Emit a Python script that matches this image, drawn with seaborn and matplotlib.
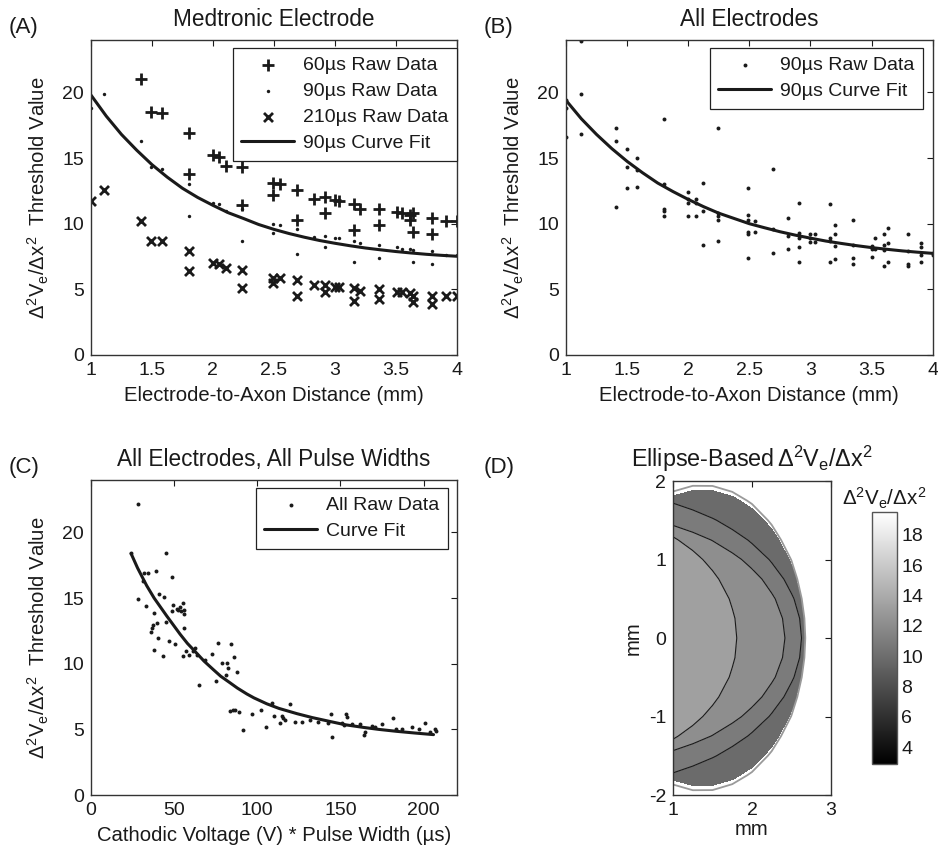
import numpy as np
import matplotlib
matplotlib.use("Agg")
import matplotlib.pyplot as plt
import seaborn as sns
from matplotlib.ticker import FormatStrFormatter
from matplotlib.colors import Normalize
from matplotlib.cm import ScalarMappable

# === (A) Medtronic electrode: raw thresholds per pulse width ===
dist_60 = [1.41, 1.49, 1.58, 1.80, 1.80, 2.0, 2.05, 2.11, 2.24, 2.24, 2.49, 2.55, 2.49,
           2.69, 2.69, 2.83, 2.92, 3.0, 3.03, 2.92, 3.16, 3.21, 3.16, 3.36, 3.36, 3.51,
           3.55, 3.62, 3.64, 3.62, 3.64, 3.80, 3.80, 3.91, 4.0]
thr_60 = [21.0, 18.5, 18.4, 16.9, 13.8, 15.2, 15.1, 14.4, 14.3, 11.4, 13.1, 13.0, 12.2,
          12.6, 10.3, 11.9, 12.0, 11.8, 11.7, 10.8, 11.5, 11.1, 9.5, 11.1, 9.9, 10.9,
          10.8, 10.7, 10.8, 10.3, 9.4, 10.4, 9.2, 10.2, 10.2]

dist_90 = [1.0, 1.11, 1.41, 1.49, 1.58, 1.80, 1.80, 2.0, 2.05, 2.11, 2.24, 2.24, 2.49,
           2.55, 2.49, 2.69, 2.69, 2.83, 2.92, 2.92, 3.0, 3.03, 3.16, 3.21, 3.16, 3.36,
           3.36, 3.51, 3.55, 3.62, 3.64, 3.64, 3.80, 3.80, 3.91, 4.0]
thr_90 = [18.8, 19.9, 16.3, 14.3, 14.2, 13.0, 10.6, 11.6, 11.5, 11.0, 11.1, 8.7, 10.0,
          9.9, 9.3, 9.6, 7.7, 9.0, 9.1, 8.2, 8.9, 8.9, 8.7, 8.5, 7.1, 8.4,
          7.4, 8.2, 8.1, 8.1, 8.0, 7.1, 7.9, 6.9, 7.6, 7.6]

dist_210 = [1.0, 1.11, 1.41, 1.49, 1.58, 1.80, 1.80, 2.0, 2.05, 2.11, 2.24, 2.24, 2.49,
            2.55, 2.49, 2.69, 2.69, 2.83, 2.92, 2.92, 3.0, 3.03, 3.16, 3.21, 3.16, 3.36,
            3.36, 3.51, 3.55, 3.62, 3.64, 3.64, 3.80, 3.80, 3.91, 4.0]
thr_210 = [11.7, 12.6, 10.2, 8.7, 8.7, 7.9, 6.4, 7.0, 6.9, 6.6, 6.5, 5.1, 5.9,
           5.9, 5.5, 5.7, 4.5, 5.3, 5.3, 4.8, 5.2, 5.2, 5.1, 4.9, 4.1, 5.0,
           4.3, 4.8, 4.8, 4.7, 4.5, 4.0, 4.5, 3.9, 4.5, 4.5]

fit_dist = [1.0, 1.125, 1.25, 1.375, 1.5, 1.625, 1.75, 1.875, 2.0, 2.125, 2.25, 2.375, 2.5,
            2.625, 2.75, 2.875, 3.0, 3.125, 3.25, 3.375, 3.5, 3.625, 3.75, 3.875, 4.0]
fit_a = [19.8, 18.2, 16.8, 15.6, 14.5, 13.55, 12.7, 12.0, 11.4, 10.84, 10.4, 9.94, 9.57,
         9.25, 8.97, 8.72, 8.51, 8.32, 8.15, 8.01, 7.88, 7.77, 7.67, 7.59, 7.52]

# === (B) All electrodes, 90us ===
dist_all = [1.0, 1.0, 1.0, 1.12, 1.12, 1.12, 1.41, 1.41, 1.41, 1.5, 1.5, 1.5, 1.58, 1.58,
            1.58, 1.80, 1.80, 1.80, 1.80, 1.80, 2.0, 2.0, 2.0, 2.0, 2.06, 2.06, 2.06,
            2.12, 2.12, 2.12, 2.24, 2.24, 2.24, 2.24, 2.24, 2.49, 2.49, 2.49, 2.49, 2.49,
            2.49, 2.55, 2.55, 2.69, 2.69, 2.69, 2.82, 2.82, 2.82, 2.91, 2.91, 2.91, 2.91,
            2.91, 3.0, 3.0, 3.0, 3.04, 3.04, 3.16, 3.16, 3.16, 3.16, 3.2, 3.2, 3.2, 3.2,
            3.35, 3.35, 3.35, 3.35, 3.5, 3.5, 3.5, 3.53, 3.53, 3.6, 3.6, 3.6, 3.6, 3.63,
            3.63, 3.63, 3.8, 3.8, 3.8, 3.8, 3.9, 3.9, 3.9, 3.9, 4.0, 4.0]
thr_all = [18.8, 16.6, 19.4, 23.9, 19.9, 16.8, 17.3, 16.3, 11.3, 15.7, 14.3, 12.7, 15.0, 12.8,
           14.1, 18.0, 13.0, 11.1, 11.0, 10.6, 12.4, 11.6, 10.6, 11.9, 11.9, 11.6, 10.6,
           13.1, 11.0, 8.4, 17.3, 10.8, 10.3, 8.7, 10.6, 12.7, 10.7, 10.3, 9.4, 9.2,
           7.4, 10.2, 9.4, 14.2, 9.6, 7.8, 10.4, 9.1, 8.1, 11.6, 9.3, 8.9, 8.2,
           7.1, 9.2, 8.6, 8.9, 9.2, 8.6, 11.5, 8.9, 8.7, 7.1, 9.9, 9.2, 8.3, 7.3,
           10.3, 8.4, 7.4, 6.9, 8.3, 8.1, 7.5, 8.9, 8.1, 9.2, 8.4, 8.0, 6.8, 9.7,
           8.5, 7.1, 9.2, 7.9, 6.9, 6.8, 8.5, 8.2, 7.6, 7.1, 7.8, 7.6]
fit_b = [19.4, 18.0, 16.8, 15.72, 14.75, 13.89, 13.1, 12.45, 11.85, 11.3, 10.8, 10.4, 10.0,
         9.69, 9.39, 9.13, 8.9, 8.68, 8.5, 8.33, 8.18, 8.05, 7.93, 7.83, 7.74]

# === (C) All electrodes, all pulse widths ===
charge = [24.1, 28.1, 28.5, 31.1, 32.1, 34.5, 32.9, 35.9, 36.5, 37.1, 37.9, 37.9, 38.9, 39.5,
          40.5, 41.1, 43.9, 43.5, 45.1, 45.1, 47.1, 48.5, 48.5, 49.5, 50.5, 51.9, 52.5, 53.6,
          54.2, 55.6, 56.0, 56.2, 56.2, 55.2, 57.2, 59.2, 61.6, 62.6, 64.0, 65.2, 68.6, 72.6,
          75.2, 76.2, 78.6, 81.0, 81.6, 82.6, 84.0, 83.6, 85.3, 86.3, 86.7, 88.0, 89.3, 91.7,
          96.7, 102.3, 105.3, 108.7, 110.1, 114.7, 113.7, 115.7, 116.7, 119.8, 122.8, 126.8,
          131.8, 136.8, 142.8, 144.2, 145.2, 150.8, 151.9, 153.3, 153.9, 156.9, 161.5, 163.9,
          164.9, 168.9, 170.9, 175.0, 181.6, 183.6, 187.0, 193.0, 197.0, 200.6, 204.0, 206.6,
          207.6]
thr_charge = [18.4, 22.2, 14.9, 16.3, 16.95, 16.95, 14.4, 12.45, 12.75, 12.95, 13.85, 11.05,
              17.1, 13.1, 11.95, 15.3, 15.1, 10.6, 18.4, 13.15, 11.7, 16.6, 14.0, 14.45, 11.5,
              14.2, 14.1, 14.35, 14.0, 14.65, 14.1, 13.8, 12.7, 10.6, 11.0, 10.65, 11.0, 11.2,
              10.65, 8.35, 10.3, 10.75, 8.7, 11.6, 10.05, 9.15, 10.05, 9.65, 11.5, 6.4, 6.45,
              10.5, 6.5, 9.4, 6.3, 4.95, 6.15, 6.5, 5.2, 7.0, 6.05, 6.05, 5.5, 5.85, 5.75, 6.95,
              5.6, 5.6, 5.75, 5.6, 5.5, 6.15, 4.4, 5.45, 5.3, 6.15, 5.95, 5.4, 5.4, 4.6, 4.8,
              5.25, 5.2, 5.4, 5.85, 5.0, 5.0, 5.15, 5.05, 5.5, 4.8, 5.0, 4.9]
fit_charge = [24.1, 28.0, 33.5, 38.0, 45.5, 53.6, 58.0, 63.6, 68.0, 73.6, 78.0, 83.6, 88.0,
              93.7, 98.0, 105.7, 113.0, 123.8, 133.0, 143.8, 153.0, 163.9, 173.0, 183.9,
              195.0, 206.0]
fit_c = [18.4, 17.3, 15.95, 15.0, 13.65, 12.25, 11.55, 10.8, 10.2, 9.55, 9.05, 8.55, 8.15,
         7.7, 7.4, 6.95, 6.6, 6.2, 5.9, 5.6, 5.35, 5.15, 5.0, 4.85, 4.72, 4.6]

# === (D) ellipse-based contour rings: centre x, semi-axes (inner -> outer) ===
ring_x0 = [0.0, 0.0, 0.0, 1.37]
ring_a = [1.81, 2.42, 2.63, 1.30]
ring_b = [1.55, 1.58, 1.86, 1.89]
fill_shades = [13.3, 12.15, 10.9, 9.87]
outline_ring = [1.37, 1.31, 1.95]
cbar_min, cbar_max = 2.9, 19.5
cbar_ticks = [4, 6, 8, 10, 12, 14, 16, 18]

ylab = r'$\Delta^2V_e/\Delta x^2$  Threshold Value'
fz_tick = 14
fz_lab = 14.6
fz_title = 16.3
ink = '#1a1a1a'

sns.set_theme(style='white')
plt.rcParams['font.family'] = ['Liberation Sans', 'DejaVu Sans']
plt.rcParams.update({
    'mathtext.fontset': 'custom',
    'mathtext.rm': 'Liberation Sans',
    'mathtext.it': 'Liberation Sans',
    'mathtext.bf': 'Liberation Sans:bold',
    'axes.unicode_minus': False,
    'axes.edgecolor': '#333333',
    'axes.linewidth': 1.0,
    'text.color': ink,
    'axes.labelcolor': ink,
    'xtick.color': ink,
    'ytick.color': ink,
})

fig = plt.figure(figsize=(9.38, 8.5), dpi=100)
axA = fig.add_axes([0.097, 0.5824, 0.390, 0.3706])
axB = fig.add_axes([0.6034, 0.5824, 0.391, 0.3706])
axC = fig.add_axes([0.097, 0.0647, 0.390, 0.3706])
axD = fig.add_axes([0.7175, 0.0647, 0.1684, 0.3694])
cax = fig.add_axes([0.9296, 0.1012, 0.0267, 0.2965])


def style_axes(ax):
    ax.tick_params(direction='in', length=4, width=0.8, top=True, right=True,
                   labelsize=fz_tick, pad=5)
    for s in ax.spines.values():
        s.set_visible(True)
        s.set_color('#333333')


def legend(ax, anchor):
    lg = ax.legend(loc='upper right', bbox_to_anchor=anchor, borderaxespad=0,
                   fancybox=False, framealpha=1, edgecolor='#222222', fontsize=14,
                   handlelength=2.7, labelspacing=0.43, borderpad=0.45,
                   handletextpad=0.45, scatterpoints=1)
    lg.get_frame().set_linewidth(0.9)


# (A)
sns.scatterplot(x=dist_60, y=thr_60, marker='+', s=75, color='k', linewidth=2,
                label='60µs Raw Data', ax=axA)
sns.scatterplot(x=dist_90, y=thr_90, marker='o', s=6, color='k', linewidth=0,
                label='90µs Raw Data', ax=axA)
sns.scatterplot(x=dist_210, y=thr_210, marker='x', s=42, color='k', linewidth=2,
                label='210µs Raw Data', ax=axA)
sns.lineplot(x=fit_dist, y=fit_a, color='k', linewidth=2.2, label='90µs Curve Fit', ax=axA)
axA.set_title('Medtronic Electrode', fontsize=fz_title, pad=10)

# (B)
sns.scatterplot(x=dist_all, y=thr_all, marker='o', s=8, color='k', linewidth=0,
                label='90µs Raw Data', ax=axB)
sns.lineplot(x=fit_dist, y=fit_b, color='k', linewidth=2.2, label='90µs Curve Fit', ax=axB)
axB.set_title('All Electrodes', fontsize=fz_title, pad=10)

for ax in (axA, axB):
    ax.set_xlim(1, 4)
    ax.set_ylim(0, 24)
    ax.set_xticks(np.arange(1, 4.01, 0.5))
    ax.set_yticks([0, 5, 10, 15, 20])
    ax.xaxis.set_major_formatter(FormatStrFormatter('%g'))
    ax.set_xlabel('Electrode-to-Axon Distance (mm)', fontsize=fz_lab, labelpad=5)
    ax.set_ylabel(ylab, fontsize=fz_lab, labelpad=8)
    style_axes(ax)

legend(axA, (1.0, 0.975))
legend(axB, (0.973, 0.975))

# (C)
sns.scatterplot(x=charge, y=thr_charge, marker='o', s=8, color='k', linewidth=0,
                label='All Raw Data', ax=axC)
sns.lineplot(x=fit_charge, y=fit_c, color='k', linewidth=2.2, label='Curve Fit', ax=axC)
axC.set_xlim(0, 220)
axC.set_ylim(0, 24)
axC.set_xticks([0, 50, 100, 150, 200])
axC.set_yticks([0, 5, 10, 15, 20])
axC.set_title('All Electrodes, All Pulse Widths', fontsize=fz_title, pad=10)
axC.set_xlabel('Cathodic Voltage (V) * Pulse Width (µs)', fontsize=fz_lab, labelpad=5)
axC.set_ylabel(ylab, fontsize=fz_lab, labelpad=8)
style_axes(axC)
legend(axC, (0.975, 0.975))

# (D) filled rings on a coarse grid, outer to inner
xg = np.linspace(1, 3, 9)
yg = np.linspace(-2, 2, 17)
XX, YY = np.meshgrid(xg, yg)
cmap = plt.get_cmap('gray')
norm = Normalize(cbar_min, cbar_max)


def ring_field(x0, a, b):
    return ((XX - x0) / a) ** 2 + (YY / b) ** 2


axD.contour(XX, YY, ring_field(*outline_ring), levels=[1], colors='#9a9a9a', linewidths=1.3)
for k in reversed(range(len(ring_a))):
    g = ring_field(ring_x0[k], ring_a[k], ring_b[k])
    axD.contourf(XX, YY, g, levels=[-1, 1], colors=[cmap(norm(fill_shades[k]))])
for k in range(3):
    g = ring_field(ring_x0[k], ring_a[k], ring_b[k])
    axD.contour(XX, YY, g, levels=[1], colors='k', linewidths=0.8)

axD.set_xlim(1, 3)
axD.set_ylim(-2, 2)
axD.set_xticks([1, 2, 3])
axD.set_yticks([-2, -1, 0, 1, 2])
axD.set_xlabel('mm', fontsize=fz_lab, labelpad=1)
axD.set_ylabel('mm', fontsize=fz_lab, labelpad=4)
axD.set_title(r'Ellipse-Based$\,\Delta^2V_e/\Delta x^2$', fontsize=16.8, pad=10)
style_axes(axD)

cb = fig.colorbar(ScalarMappable(norm=norm, cmap=cmap), cax=cax)
cb.set_ticks(cbar_ticks)
cb.outline.set_edgecolor('#555555')
cax.tick_params(direction='in', length=3, labelsize=fz_tick, left=True, right=True, pad=3)
cax.set_title(r'$\Delta^2V_e/\Delta x^2$', fontsize=14.8, pad=5)

for lbl, px, py in [('(A)', 9, 27), ('(B)', 484, 27), ('(C)', 9, 467), ('(D)', 484, 467)]:
    fig.text(px / 938, 1 - py / 850, lbl, fontsize=16, va='center', ha='left')

fig.savefig('out.png', dpi=100)
